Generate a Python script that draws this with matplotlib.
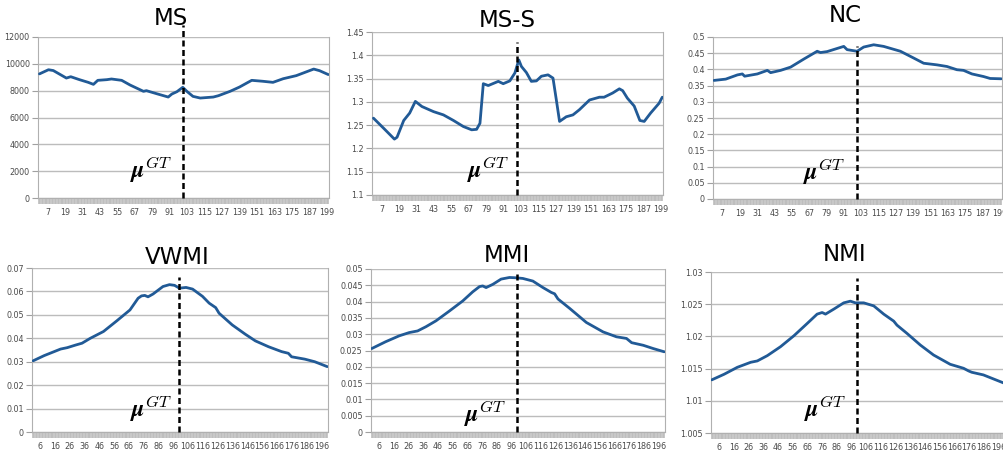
import matplotlib.pyplot as plt

plt.rcParams['mathtext.fontset'] = 'cm'

# Data (x = candidate index, y = score)
ms_x = [1.5, 7.7, 11, 20, 23, 29, 35, 38.6, 41.6, 47.8, 51, 58, 63.8, 73, 75, 82, 90, 92.5, 96, 100,
        102.8, 107, 112, 121, 124.5, 132.5, 139, 144, 147.4, 155, 162, 169, 178, 190, 194, 200]
ms_y = [9250, 9560, 9500, 8940, 9040, 8820, 8620, 8470, 8770, 8820, 8870, 8770, 8420, 7950, 8000, 7775, 7525, 7750, 7925, 8250,
        7950, 7575, 7450, 7525, 7625, 7950, 8270, 8570, 8770, 8700, 8620, 8890, 9120, 9610, 9490, 9200]

mss_x = [1.5, 8.6, 15.9, 17.7, 22.3, 26.4, 30.3, 34.8, 42.8, 49.6, 56.5, 63.3, 69, 72.4, 74.7, 77, 80.4, 87.3, 90.7, 95.2,
         98.7, 101.4, 103.2, 106.6, 110, 113.5, 116.9, 121.5, 124.9, 127.2, 129.4, 134, 138.6, 143, 150, 156.8, 160,
         165.9, 170.5, 172.8, 176, 180.7, 184.6, 187.6, 192, 197.8, 200]
mss_y = [1.265, 1.243, 1.220, 1.224, 1.260, 1.276, 1.301, 1.290, 1.279, 1.272, 1.260, 1.247, 1.240, 1.241, 1.254, 1.339, 1.335, 1.344, 1.339, 1.345,
         1.362, 1.390, 1.376, 1.363, 1.344, 1.345, 1.355, 1.358, 1.351, 1.304, 1.258, 1.268, 1.272, 1.283, 1.304, 1.310, 1.310,
         1.319, 1.328, 1.324, 1.308, 1.291, 1.260, 1.258, 1.276, 1.297, 1.310]

nc_x = [1.2, 9.3, 17.4, 20.8, 22.4, 31.2, 38.1, 40.4, 47.3, 54.2, 63.4, 72.6, 74.9, 79.5, 91, 93.3, 100.2, 104.8, 111.7, 118.6,
        130.2, 139.4, 146.3, 155.5, 162.4, 169.3, 173.9, 179.7, 187.7, 192.3, 200]
nc_y = [0.366, 0.370, 0.383, 0.386, 0.379, 0.386, 0.397, 0.390, 0.397, 0.407, 0.432, 0.456, 0.452, 0.455, 0.471, 0.461, 0.456, 0.469, 0.476, 0.471,
        0.456, 0.435, 0.419, 0.414, 0.409, 0.399, 0.397, 0.386, 0.378, 0.372, 0.371]

vwmi_x = [1.3, 8.7, 19.8, 24.3, 29.9, 34.3, 39.9, 48.8, 57.7, 66.7, 72.2, 74.5, 76.7, 78.9, 82.3, 89, 93.4, 96.8, 100.1, 104.6,
          109, 115.7, 120.2, 124.6, 126.9, 135.8, 144.7, 151.4, 160.3, 169.2, 173.7, 175.9, 184.8, 191.5, 200]
vwmi_y = [0.0304, 0.0326, 0.0354, 0.0360, 0.0371, 0.0379, 0.0400, 0.0429, 0.0474, 0.0521, 0.0571, 0.0581, 0.0583, 0.0577, 0.0589, 0.0621, 0.0629, 0.0626, 0.0614, 0.0617,
          0.0610, 0.0579, 0.0550, 0.0531, 0.0507, 0.0457, 0.0417, 0.0389, 0.0364, 0.0343, 0.0336, 0.0321, 0.0311, 0.0300, 0.0279]

mmi_x = [1, 10.5, 19.7, 26.5, 32.2, 37.9, 44.7, 53.8, 62.9, 69.7, 74.3, 76.5, 78.8, 83.4, 89, 94.7, 99.3, 103.8, 110.6, 117.5,
         123.2, 125.4, 127.7, 135.7, 147, 158.4, 167.5, 174.3, 177.8, 185.7, 192.5, 200]
mmi_y = [0.0256, 0.0277, 0.0295, 0.0305, 0.0310, 0.0323, 0.0341, 0.0371, 0.0402, 0.0430, 0.0446, 0.0448, 0.0443, 0.0453, 0.0469, 0.0474, 0.0473, 0.0471, 0.0463, 0.0443,
         0.0428, 0.0424, 0.0408, 0.0379, 0.0336, 0.0307, 0.0292, 0.0287, 0.0274, 0.0266, 0.0256, 0.0246]

nmi_x = [1, 9.4, 18.4, 27.5, 32, 38.8, 47.8, 56.9, 65.9, 72.7, 76.1, 78.4, 84, 90.8, 95.3, 98.7, 104.4, 111.2, 118, 124.8,
         127, 133.8, 142.9, 151.9, 163.2, 172.3, 175.7, 177.9, 185.8, 192.6, 200]
nmi_y = [1.01325, 1.01412, 1.0152, 1.01598, 1.01619, 1.01701, 1.0184, 1.0201, 1.0220, 1.02346, 1.02371, 1.02346, 1.02423, 1.02521, 1.02547, 1.02521, 1.02521, 1.02474, 1.02346, 1.02237,
         1.02175, 1.02047, 1.01866, 1.01711, 1.01567, 1.01505, 1.01464, 1.01443, 1.01402, 1.0134, 1.01273]

top_ticks = list(range(7, 200, 12))
bottom_ticks = list(range(6, 200, 10))
gt_index = 100

W, H = 1004, 453
fig = plt.figure(figsize=(W / 100, H / 100), dpi=100)

line_color = '#215a96'
grid_color = '#bcbcbc'


def make_panel(box, title, title_pos, x, y, ylim, yticks, yfmt, xticks, dash_top, mu_pos):
    left, right, top, bottom = box
    ax = fig.add_axes([left / W, 1 - bottom / H, (right - left) / W, (bottom - top) / H])
    ax.plot(x, y, color=line_color, lw=2.0, solid_capstyle='round', zorder=3)
    ax.set_xlim(0.5, 200.5)
    ax.set_ylim(*ylim)
    ax.set_yticks(yticks)
    ax.set_yticklabels([yfmt(v) for v in yticks])
    ax.set_xticks(xticks)
    ax.set_xticks(range(1, 201), minor=True)
    ax.grid(axis='y', color=grid_color, lw=1)
    ax.set_axisbelow(True)
    ax.spines['top'].set_visible(False)
    for s in ['left', 'right', 'bottom']:
        ax.spines[s].set_color('#b0b0b0')
    ax.tick_params(axis='y', length=4, color='#a0a0a0', labelsize=5.8, labelcolor='#4a4a4a', pad=2)
    ax.tick_params(axis='x', which='both', length=4.5, width=1.2, color='#bdbdbd',
                   labelsize=5.8, labelcolor='#4a4a4a', pad=3)
    # dashed line at the ground-truth index
    ax.axvline(gt_index, ymin=0, ymax=dash_top, color='black', lw=1.8,
               linestyle=(0, (2.4, 1.4)), clip_on=False, zorder=4)
    ax.text(mu_pos[0], mu_pos[1], r'$\boldsymbol{\mu}^{GT}$', transform=ax.get_xaxis_transform(),
            fontsize=17, va='baseline', ha='left')
    fig.text(title_pos[0] / W, 1 - title_pos[1] / H, title, fontsize=16.5,
             ha='center', va='baseline')
    return ax


def fmt_plain(v):
    return ('%g' % v)


make_panel((38, 329, 37, 198), 'MS', (171, 25), ms_x, ms_y, (0, 12000),
           list(range(0, 12001, 2000)), fmt_plain, top_ticks, 1.075, (64, 0.124))
make_panel((372, 663, 32, 195), 'MS-S', (507, 27), mss_x, mss_y, (1.1, 1.45),
           [1.1, 1.15, 1.2, 1.25, 1.3, 1.35, 1.4, 1.45], fmt_plain, top_ticks, 0.94, (65.6, 0.104))
make_panel((713, 1002, 37, 199), 'NC', (845, 22), nc_x, nc_y, (0, 0.5),
           [i * 0.05 for i in range(11)], lambda v: '%g' % round(v, 2), top_ticks, 0.944, (63, 0.117))
make_panel((32, 328, 268, 432), 'VWMI', (177, 264), vwmi_x, vwmi_y, (0, 0.07),
           [i * 0.01 for i in range(8)], lambda v: '%g' % round(v, 2), bottom_ticks, 0.945, (66.7, 0.093))
make_panel((371, 665, 269, 432), 'MMI', (507, 262), mmi_x, mmi_y, (0, 0.05),
           [i * 0.005 for i in range(11)], lambda v: '%g' % round(v, 3), bottom_ticks, 0.97, (64, 0.063))
make_panel((711, 1005, 272, 433), 'NMI', (845, 261), nmi_x, nmi_y, (1.005, 1.03),
           [1.005, 1.01, 1.015, 1.02, 1.025, 1.03], lambda v: '%g' % round(v, 3), bottom_ticks, 0.96, (63.5, 0.10))

plt.savefig('out.png', dpi=100)
